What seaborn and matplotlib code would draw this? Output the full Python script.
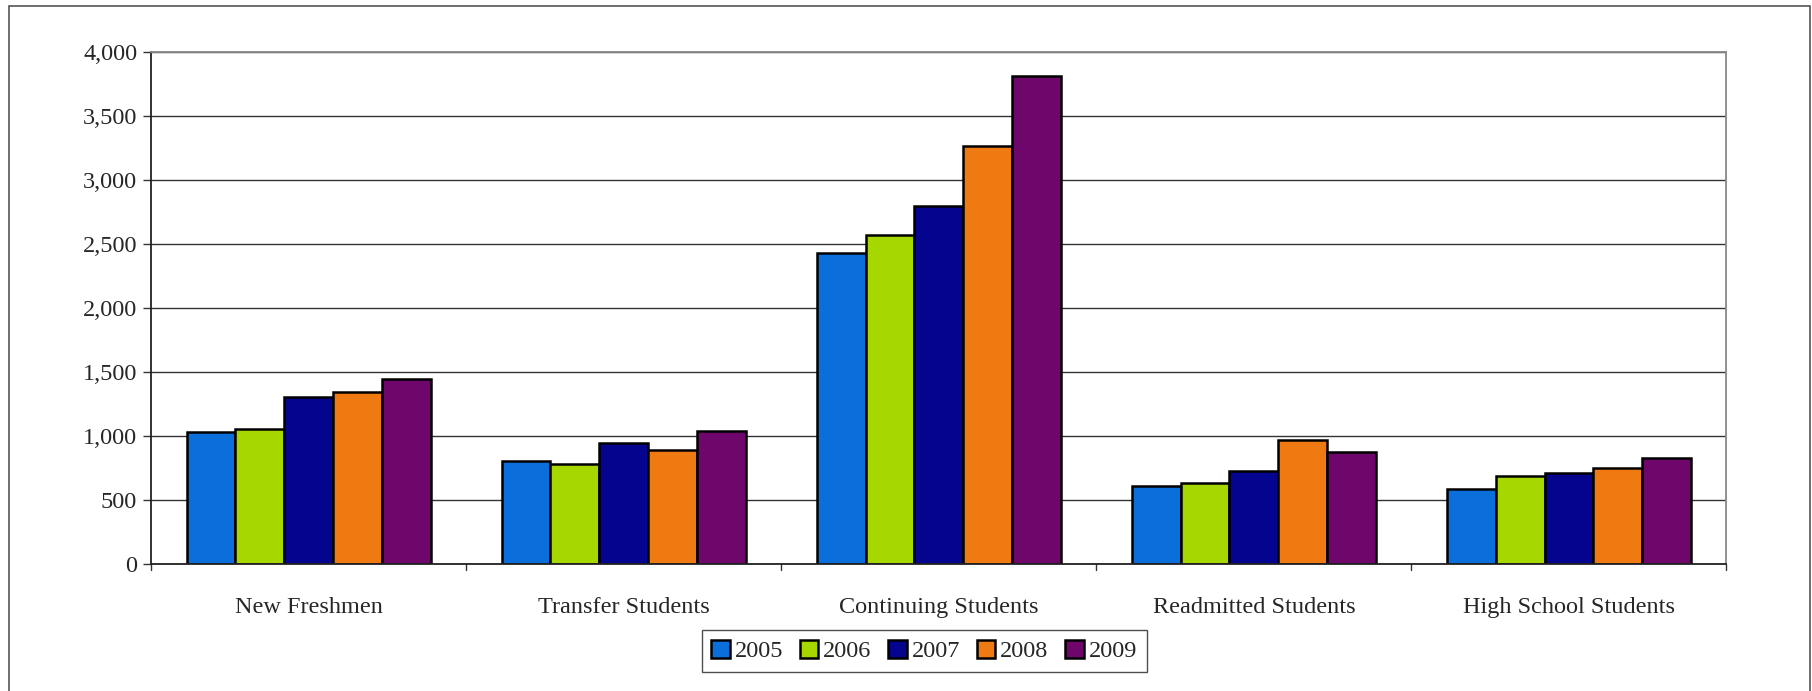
import pandas as pd
import seaborn as sns
import matplotlib.pyplot as plt
from matplotlib.ticker import FuncFormatter
from matplotlib.patches import Rectangle

# Enrollment values
categories = ["New Freshmen", "Transfer Students", "Continuing Students",
              "Readmitted Students", "High School Students"]
years = ["2005", "2006", "2007", "2008", "2009"]
v2005 = [1028, 805, 2430, 611, 582]
v2006 = [1051, 780, 2572, 632, 687]
v2007 = [1302, 948, 2795, 728, 713]
v2008 = [1343, 892, 3266, 969, 752]
v2009 = [1449, 1042, 3810, 877, 825]
colors = ["#0A6FDA", "#A6D800", "#04048E", "#F07A12", "#6E066C"]

rows = []
for year, vals in zip(years, [v2005, v2006, v2007, v2008, v2009]):
    for cat, v in zip(categories, vals):
        rows.append({"category": cat, "year": year, "count": v})
df = pd.DataFrame(rows)

sns.set_style("white")
plt.rcParams['font.family'] = ['Liberation Serif', 'DejaVu Serif']

fig = plt.figure(figsize=(18.12, 6.91), dpi=100)
ax = fig.add_axes([0.0834, 0.1838, 0.8694, 0.741])

sns.barplot(data=df, x="category", y="count", hue="year", palette=colors,
            width=0.775, gap=0, edgecolor="black", linewidth=1.8,
            saturation=1, ax=ax, legend=True)

ax.set_ylim(0, 4000)
ax.set_xlim(-0.5, 4.5)
ax.set_yticks(range(0, 4001, 500))
ax.yaxis.set_major_formatter(FuncFormatter(lambda v, p: f"{int(v):,}"))
ax.yaxis.grid(True, color="#333333", linewidth=1.0)
ax.set_axisbelow(True)
ax.set_xlabel("")
ax.set_ylabel("")

# category labels centred, tick marks at the group boundaries
ax.set_xticks(range(5))
ax.set_xticklabels(categories, fontsize=17.5)
ax.tick_params(axis="x", length=0, pad=24)
for b in [-0.5, 0.5, 1.5, 2.5, 3.5, 4.5]:
    ax.plot([b, b], [0, -0.012], transform=ax.get_xaxis_transform(),
            color="#333333", lw=1, clip_on=False)
ax.tick_params(axis="y", labelsize=17.5, length=6, width=1, color="#333333",
               left=True, pad=4)

for side in ["left", "bottom"]:
    ax.spines[side].set_color("#222222")
    ax.spines[side].set_linewidth(1.3)
for side in ["top", "right"]:
    ax.spines[side].set_color("#888888")
    ax.spines[side].set_linewidth(1.3)

leg = ax.legend(loc="center", bbox_to_anchor=(0.51, 0.058),
                bbox_transform=fig.transFigure, ncol=5, fontsize=17.5,
                frameon=True, fancybox=False, handlelength=0.75,
                handleheight=0.75, handletextpad=0.2, columnspacing=0.7,
                borderpad=0.4, title=None)
leg.get_frame().set_edgecolor("#222222")
leg.get_frame().set_linewidth(1.0)

# thin outer frame around the figure
fig.patches.append(Rectangle((9 / 1812, -0.05), 1801 / 1812, 1.05 - 6 / 691,
                             transform=fig.transFigure, fill=False,
                             edgecolor="#555555", linewidth=1.2))

fig.savefig("out.png", dpi=100)
